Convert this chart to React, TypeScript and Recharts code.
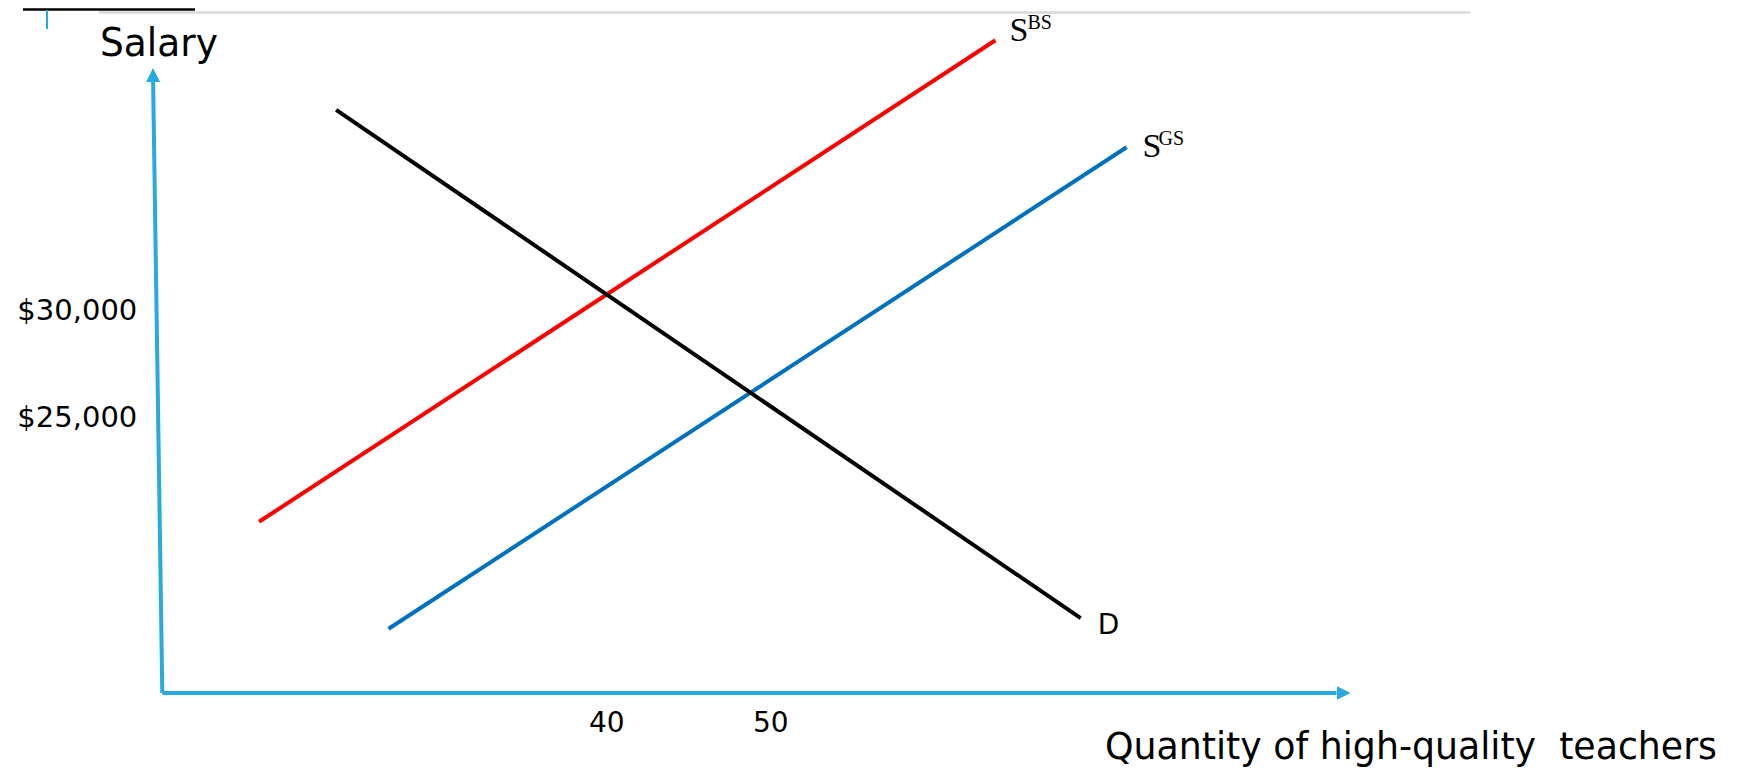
import { LineChart, Line, XAxis, YAxis, ReferenceLine } from "recharts";

// end points of each curve: quantity of high-quality teachers / salary
const quantityBS = [18.8, 63.7];
const salaryBS = [20100, 42600];
const quantityGS = [26.7, 71.7];
const salaryGS = [15100, 37600];
const quantityD = [23.5, 68.9];
const salaryD = [39350, 15600];

const xTicks = [40, 50];
const yTicks = [25000, 30000];

const toPoints = (qs: number[], ss: number[]) => qs.map((q, i) => ({ q, s: ss[i] }));
const bsData = toPoints(quantityBS, salaryBS);
const gsData = toPoints(quantityGS, salaryGS);
const dData = toPoints(quantityD, salaryD);

const AXIS = "#27A9E1";
const SANS = "'Century Gothic', 'DejaVu Sans', sans-serif";
const SERIF = "'Cambria Math', 'Liberation Serif', serif";

// label drawn next to the last point of a curve
const supplyLabel = (sup: string, dx: number, dy: number, supDx: number) => (props: any) => {
  const { x, y, index } = props;
  if (index !== 1) return null;
  return (
    <g>
      <text x={x + dx} y={y + dy} fontFamily={SERIF} fontSize={34} fill="#000">S</text>
      <text x={x + dx + supDx} y={y + dy - 12} fontFamily={SERIF} fontSize={20} fill="#000">{sup}</text>
    </g>
  );
};

const demandLabel = (props: any) => {
  const { x, y, index } = props;
  if (index !== 1) return null;
  return (
    <text x={x + 17} y={y + 16} fontFamily={SANS} fontSize={28} fill="#000">D</text>
  );
};

export default function App() {
  return (
    <div style={{ position: "absolute", left: 0, top: 0, width: 1738, height: 770, background: "#fff" }}>
      <LineChart width={1738} height={770} margin={{ top: 31.7, right: 401.5, bottom: 37, left: 12.3 }}>
        <defs>
          <marker id="arrowHead" markerUnits="userSpaceOnUse" markerWidth={14} markerHeight={14}
            viewBox="0 0 14 14" refX={0} refY={7} orient="auto">
            <path d="M0,0 L14,7 L0,14 z" fill={AXIS} />
          </marker>
        </defs>
        {/* slide decoration at the top */}
        <line x1={23} y1={9.5} x2={195} y2={9.5} stroke="#000" strokeWidth={2.5} />
        <line x1={99} y1={12.5} x2={1470} y2={12.5} stroke="#d9d9d9" strokeWidth={2.5} />
        <line x1={47} y1={10} x2={47} y2={29} stroke={AXIS} strokeWidth={2} />

        <XAxis
          dataKey="q"
          type="number"
          domain={[12.9, 84.5]}
          ticks={xTicks}
          height={40}
          tickLine={false}
          tickSize={0}
          tickMargin={19}
          axisLine={{ stroke: AXIS, strokeWidth: 4, markerEnd: "url(#arrowHead)" }}
          tick={{ fill: "#000", fontSize: 28, fontFamily: SANS }}
        />
        <YAxis
          dataKey="s"
          type="number"
          domain={[12100, 43000]}
          ticks={yTicks}
          width={150}
          axisLine={false}
          tickLine={false}
          tickSize={0}
          tickMargin={25}
          tickFormatter={(v: number) => "$" + v.toLocaleString("en-US")}
          tick={{ fill: "#000", fontSize: 29, fontFamily: SANS }}
        />
        <ReferenceLine
          segment={[{ x: 12.9, y: 12100 }, { x: 12.34, y: 40650 }]}
          ifOverflow="visible"
          shape={(p: any) => (
            <line x1={p.x1} y1={p.y1} x2={p.x2} y2={p.y2} stroke={AXIS} strokeWidth={4} markerEnd="url(#arrowHead)" />
          )}
        />

        <Line data={bsData} dataKey="s" type="linear" stroke="#FF0000" strokeWidth={4} dot={false}
          isAnimationActive={false} label={supplyLabel("BS", 14, 1, 18)} />
        <Line data={gsData} dataKey="s" type="linear" stroke="#0070C0" strokeWidth={4} dot={false}
          isAnimationActive={false} label={supplyLabel("GS", 16, 10, 16)} />
        <Line data={dData} dataKey="s" type="linear" stroke="#000000" strokeWidth={4} dot={false}
          isAnimationActive={false} label={demandLabel} />

        <text x={100} y={56} fontFamily={SANS} fontSize={39} fill="#000" textLength={118} lengthAdjust="spacingAndGlyphs">Salary</text>
        <text x={1105} y={759} fontFamily={SANS} fontSize={37} fill="#000" style={{ whiteSpace: "pre" }}
          textLength={612} lengthAdjust="spacingAndGlyphs">Quantity of high-quality  teachers</text>
      </LineChart>
    </div>
  );
}
